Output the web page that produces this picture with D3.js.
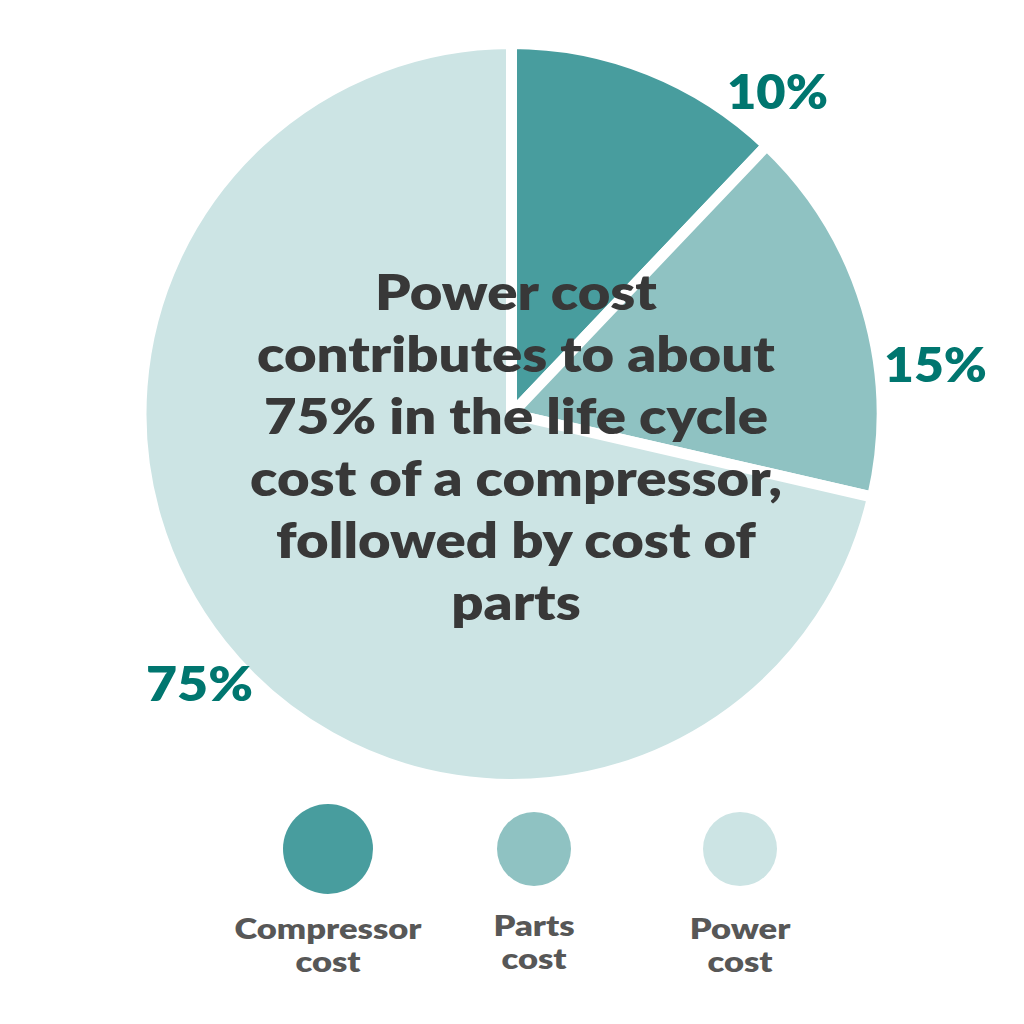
<!DOCTYPE html>
<html>
<head>
<meta charset="utf-8">
<script src="https://cdn.jsdelivr.net/npm/d3@7"></script>
<style>
    html, body { margin: 0; padding: 0; background: #fff; }
    svg text { font-family: Lato, "Open Sans", sans-serif; font-weight: 800; }
</style>
</head>
<body>
<div id="chart"></div>
<script>
// slice sizes as drawn in the picture (share of the full circle, %)
const categories = ['Compressor cost', 'Parts cost', 'Power cost'];
const sliceShares = [12.1, 16.5, 71.4];
// printed labels
const shareLabels = ['10%', '15%', '75%'];
const legendLines = [['Compressor', 'cost'], ['Parts', 'cost'], ['Power', 'cost']];
const headline = [
    'Power cost',
    'contributes to about',
    '75% in the life cycle',
    'cost of a compressor,',
    'followed by cost of',
    'parts'
];
const sliceColors = ['#489d9e', '#8fc2c2', '#cce4e4'];

const width = 1024;
const height = 1024;
const center = {x: 511.5, y: 414};
const radius = 365;
const gap = 11;

// where the percentage labels sit, relative to pie centre
const labelOffsets = [[266, -322], [424, -49], [-312, 270]];
const legendX = [328, 534, 740];
const legendR = [45, 37, 37];
const legendBase = [939, 936, 939];

const svg = d3.select('#chart').append('svg')
    .attr('width', width)
    .attr('height', height);

const pie = d3.pie()
    .sort(null)
    .value(d => d)
    .startAngle(0)
    .endAngle(2 * Math.PI);

const arc = d3.arc()
    .innerRadius(0)
    .outerRadius(radius + gap / 2);

const pieG = svg.append('g')
    .attr('transform', 'translate(' + center.x + ',' + center.y + ')');

pieG.selectAll('path')
    .data(pie(sliceShares))
    .enter().append('path')
    .attr('d', arc)
    .attr('fill', (d, i) => sliceColors[i])
    .attr('stroke', '#fff')
    .attr('stroke-width', gap)
    .attr('stroke-linejoin', 'miter');

// the original face is wider than Lato: stretch horizontally to the measured width
function stretchTo(parent, txt, size, target) {
    const probe = parent.append('text').attr('font-size', size).text(txt);
    const w = probe.node().getComputedTextLength();
    probe.remove();
    return target / w;
}

// percentage labels
const labelWidths = [101, 103, 107];
shareLabels.forEach((txt, i) => {
    const sx = stretchTo(svg, txt, 48, labelWidths[i]);
    svg.append('text')
        .attr('transform', 'translate(' + (center.x + labelOffsets[i][0]) + ',' + (center.y + labelOffsets[i][1] + 17) + ') scale(' + sx + ',1)')
        .attr('text-anchor', 'middle')
        .attr('fill', '#00766f')
        .attr('font-size', 48)
        .text(txt);
});

// headline in the middle
const headSx = stretchTo(svg, headline[1], 50, 518);
svg.append('g')
    .selectAll('text')
    .data(headline)
    .enter().append('text')
    .attr('transform', (d, i) => 'translate(516,' + (310 + i * 62) + ') scale(' + headSx + ',1)')
    .attr('text-anchor', 'middle')
    .attr('fill', '#383838')
    .attr('font-size', 50)
    .text(d => d);

// legend
const legendG = svg.append('g');
legendG.selectAll('circle')
    .data(categories)
    .enter().append('circle')
    .attr('cx', (d, i) => legendX[i])
    .attr('cy', 849)
    .attr('r', (d, i) => legendR[i])
    .attr('fill', (d, i) => sliceColors[i]);

const legendSx = stretchTo(legendG, legendLines[0][0], 28, 187);
legendLines.forEach((lines, i) => {
    lines.forEach((line, j) => {
        legendG.append('text')
            .attr('transform', 'translate(' + legendX[i] + ',' + (legendBase[i] + j * 33) + ') scale(' + legendSx + ',1)')
            .attr('text-anchor', 'middle')
            .attr('fill', '#575757')
            .attr('font-size', 28)
            .text(line);
    });
});
</script>
</body>
</html>
